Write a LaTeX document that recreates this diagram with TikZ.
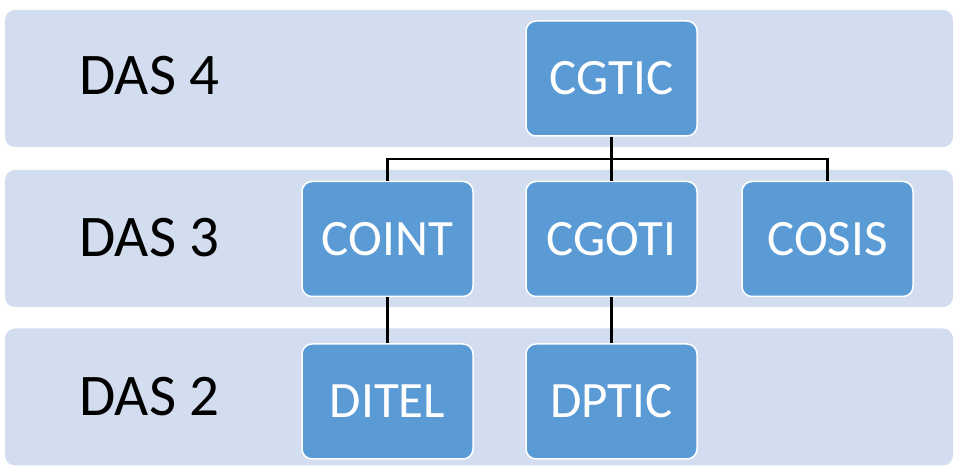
\documentclass[tikz,border=0pt]{standalone}
\usepackage{fontspec}
\setmainfont{Carlito}
\usepackage{tikz}
\usetikzlibrary{positioning}
\definecolor{band}{HTML}{D2DDEF}
\definecolor{unit}{HTML}{5B9BD5}
\tikzset{
  level/.style={fill=band, rounded corners=10pt, minimum width=948pt, minimum height=137pt, inner sep=0pt},
  unitbox/.style={fill=unit, draw=white, line width=1.5pt, rounded corners=10pt, minimum width=171pt, minimum height=115pt, inner sep=0pt, text=white, font=\fontsize{51}{54}\selectfont},
  dastxt/.style={anchor=base west, text=black, font=\fontsize{59}{62}\selectfont},
  link/.style={draw=black, line width=2.8pt},
}

\begin{document}
\begin{tikzpicture}[x=1pt, y=1pt]
  \useasboundingbox (0,0) rectangle (964,473);
  % levels
  \node[level] (das4) at (479,394.5) {};
  \node[level] (das3) at (479,234.5) {};
  \node[level] (das2) at (479,76) {};
  \node[dastxt] (l4) at (76,378) {DAS 4};
  \node[dastxt] (l3) at (76,216) {DAS 3};
  \node[dastxt] (l2) at (76,57) {DAS 2};
  % units
  \node[unitbox] (cgtic) at (611.5,394.5) {CGTIC};
  \node[unitbox] (coint) at (387.5,234) {COINT};
  \node[unitbox] (cgoti) at (611.5,234) {CGOTI};
  \node[unitbox] (cosis) at (827.5,234) {COSIS};
  \node[unitbox, below=46pt of coint] (ditel) {DITEL};
  \node[unitbox, below=46pt of cgoti] (dptic) {DPTIC};
  % links
  \coordinate (bus) at (611.5,314);
  \draw[link] (cgtic.south) -- (cgoti.north);
  \draw[link] (coint.north) |- (bus) -| (cosis.north);
  \draw[link] (coint.south) -- (ditel.north);
  \draw[link] (cgoti.south) -- (dptic.north);
\end{tikzpicture}
\end{document}
